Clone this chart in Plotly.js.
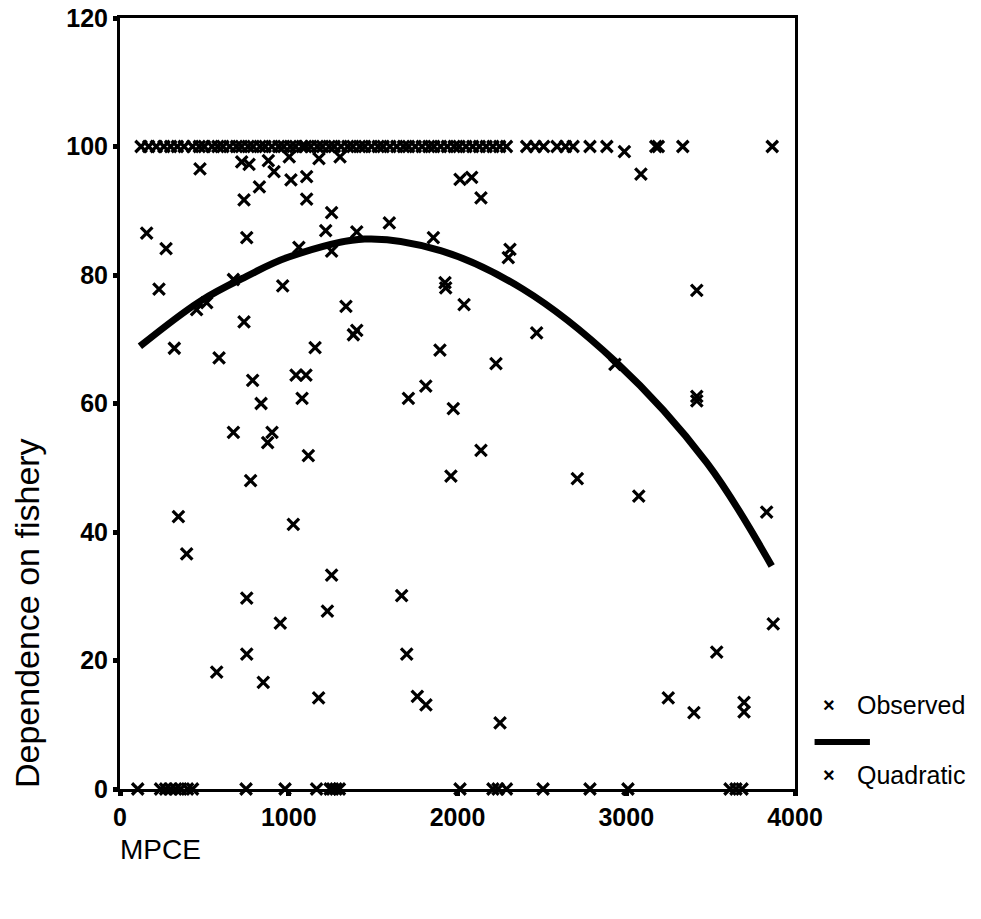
<!DOCTYPE html>
<html>
<head>
<meta charset="utf-8">
<script src="https://cdn.plot.ly/plotly-3.0.1.min.js"></script>
<style>html,body{margin:0;padding:0;background:#fff;}#chart{width:981px;height:919px;}</style>
</head>
<body>
<div id="chart"></div>
<script>
// Observed points scattered across the plot (MPCE, dependence %)
const scatterX = [474,721,765,879,913,1003,826,1013,1106,735,1106,1179,1304,1254,1219,1403,1596,1857,158,273,751,1254,1060,672,231,964,1926,1930,454,514,735,322,587,1339,1403,1383,1156,1896,786,1043,1102,1079,836,1709,1812,1975,672,901,875,1116,774,1961,346,1027,395,1254,751,1669,1229,950,751,1699,573,849,1177,1762,1813,3418,2039,2469,2228,2933,3418,3418,2139,2710,3074,3832,3871,3536,3249,3401,3698,3698,2252,2015,2084,2139,3087,2989,2311,2301];
const scatterY = [96.5,97.6,97.2,97.8,96.1,98.4,93.7,94.8,95.3,91.7,91.8,98.1,98.4,89.7,86.9,86.7,88.1,85.8,86.5,84.1,85.8,83.7,84.3,79.3,77.8,78.3,78.8,78.0,74.6,75.7,72.7,68.6,67.1,75.1,71.4,70.7,68.7,68.3,63.6,64.4,64.4,60.8,60.0,60.8,62.7,59.2,55.5,55.5,53.9,51.9,48.0,48.7,42.4,41.2,36.6,33.3,29.7,30.1,27.7,25.8,21.0,21.0,18.2,16.6,14.2,14.4,13.1,77.6,75.4,71.0,66.2,66.1,61.1,60.4,52.7,48.3,45.6,43.1,25.7,21.3,14.2,11.9,13.5,12.0,10.3,94.9,95.2,92.0,95.7,99.2,84.0,82.7];
// Observed points at full dependence (100%)
const fullX = [125,170,215,260,300,340,380,430,470,500,545,580,610,650,690,720,760,790,830,860,900,940,970,1010,1040,1080,1100,1130,1170,1200,1240,1270,1310,1350,1380,1420,1450,1490,1530,1560,1600,1640,1680,1710,1750,1790,1830,1860,1900,1940,1980,2010,2050,2090,2130,2170,2210,2250,2290,2410,2460,2510,2590,2640,2685,2785,2885,3175,3190,3335,3865];
const fullY = [100,100,100,100,100,100,100,100,100,100,100,100,100,100,100,100,100,100,100,100,100,100,100,100,100,100,100,100,100,100,100,100,100,100,100,100,100,100,100,100,100,100,100,100,100,100,100,100,100,100,100,100,100,100,100,100,100,100,100,100,100,100,100,100,100,100,100,100,100,100,100];
// Observed points at zero dependence
const zeroX = [105,240,270,300,330,360,400,430,747,978,1165,1245,1260,1280,1300,2015,2210,2240,2290,2507,2785,3010,3615,3650,3686];
const zeroY = [0,0,0,0,0,0,0,0,0,0,0,0,0,0,0,0,0,0,0,0,0,0,0,0,0];
// Quadratic fit curve
const curveX = [118,474,750,1000,1450,1900,2388,2933,3477,3862];
const curveY = [68.9,75.9,79.8,82.8,85.6,83.8,77.8,66.6,50.8,34.7];
const xTicks = [0,1000,2000,3000,4000];
const yTicks = [0,20,40,60,80,100,120];

const obsX = scatterX.concat(fullX, zeroX);
const obsY = scatterY.concat(fullY, zeroY);

const FONT = "Liberation Sans, Arial, sans-serif";

const traces = [
  {
    x: curveX, y: curveY, type: 'scatter', mode: 'lines',
    line: {color: '#000', width: 7, shape: 'spline', smoothing: 1.0},
    name: 'Quadratic', showlegend: false, hoverinfo: 'skip'
  },
  {
    x: obsX, y: obsY, type: 'scatter', mode: 'markers',
    marker: {symbol: 'x-thin', size: 11.5, color: '#000', line: {color: '#000', width: 3.2}},
    name: 'Observed', showlegend: false, cliponaxis: false
  }
];

const layout = {
  width: 981, height: 919,
  margin: {l: 120, r: 186, t: 18, b: 130},
  paper_bgcolor: '#fff', plot_bgcolor: '#fff',
  font: {family: FONT, color: '#000'},
  showlegend: false,
  xaxis: {
    range: [0, 4000], tickvals: xTicks, ticktext: xTicks.map(String),
    showgrid: false, zeroline: false,
    showline: true, linecolor: '#000', linewidth: 3, mirror: true,
    ticks: 'outside', ticklen: 4, tickwidth: 5, tickcolor: '#000',
    ticklabelstandoff: 0,
    tickfont: {family: FONT, size: 25, color: '#000', weight: 'bold'}
  },
  yaxis: {
    range: [0, 120], tickvals: yTicks, ticktext: yTicks.map(String),
    showgrid: false, zeroline: false,
    showline: true, linecolor: '#000', linewidth: 3, mirror: true,
    ticks: 'outside', ticklen: 4, tickwidth: 5, tickcolor: '#000',
    ticklabelstandoff: 0,
    tickfont: {family: FONT, size: 25, color: '#000', weight: 'bold'}
  },
  annotations: [
    {xref: 'paper', yref: 'paper', x: -0.138, y: 0.228, text: 'Dependence on fishery',
     textangle: -90, showarrow: false, xanchor: 'center', yanchor: 'middle',
     font: {family: FONT, size: 34, color: '#000'}},
    {xref: 'paper', yref: 'paper', x: -0.003, y: -0.079, text: 'MPCE',
     showarrow: false, xanchor: 'left', yanchor: 'middle',
     font: {family: FONT, size: 28, color: '#000'}},
    {xref: 'paper', yref: 'paper', x: 1.0504, y: 0.109, text: '×',
     showarrow: false, xanchor: 'center', yanchor: 'middle',
     font: {family: FONT, size: 20, color: '#000', weight: 'bold'}},
    {xref: 'paper', yref: 'paper', x: 1.089, y: 0.109, text: 'Observed',
     showarrow: false, xanchor: 'left', yanchor: 'middle',
     font: {family: FONT, size: 25, color: '#000'}},
    {xref: 'paper', yref: 'paper', x: 1.0504, y: 0.018, text: '×',
     showarrow: false, xanchor: 'center', yanchor: 'middle',
     font: {family: FONT, size: 20, color: '#000', weight: 'bold'}},
    {xref: 'paper', yref: 'paper', x: 1.089, y: 0.018, text: 'Quadratic',
     showarrow: false, xanchor: 'left', yanchor: 'middle',
     font: {family: FONT, size: 25, color: '#000'}}
  ],
  shapes: [
    {type: 'line', xref: 'paper', yref: 'paper', x0: 1.029, x1: 1.111, y0: 0.061, y1: 0.061,
     line: {color: '#000', width: 6}}
  ]
};

Plotly.newPlot('chart', traces, layout, {displayModeBar: false, staticPlot: true});
</script>
</body>
</html>
